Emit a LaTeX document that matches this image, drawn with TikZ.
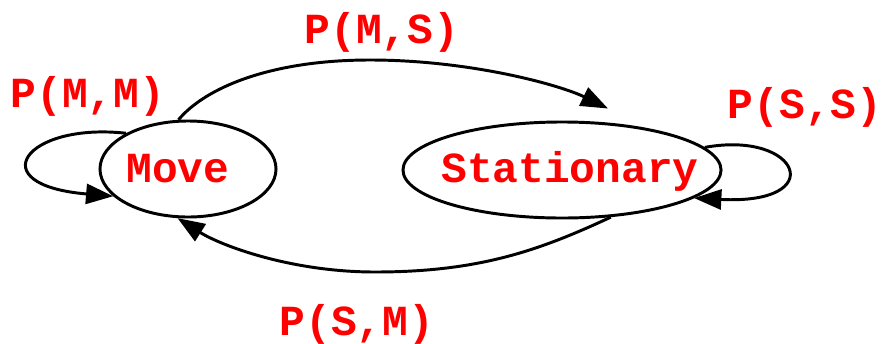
\documentclass[tikz,border=0pt]{standalone}
\usepackage{fontspec}
\setmonofont{Liberation Mono}
\usetikzlibrary{arrows.meta,shapes.geometric}
\tikzset{state/.style={ellipse,draw,line width=2.1pt,inner sep=0pt,minimum height=2.4cm},
  lbl/.style={text=red,font=\fontsize{30.5pt}{36pt}\selectfont\ttfamily\bfseries,inner sep=0pt,anchor=base},
  trans/.style={line width=2.1pt,-{Triangle[length=0.68cm,width=0.5cm]}}}
\begin{document}
\begin{tikzpicture}[x=.025cm,y=-.025cm]
\useasboundingbox (0,0) rectangle (885,343);
\node[state,minimum width=4.4cm] (move) at (188,169) {};
\node[state,minimum width=7.95cm] (stat) at (562,170) {};
\node[lbl] (movetxt) at (178,182) {Move};
\node[lbl] (stattxt) at (570,182) {Stationary};
\coordinate (mstip) at ([shift={(46,-12)}]stat.north);
\draw[trans] (move.101) .. controls (205,88) and (270,60) .. (370,60) .. controls (470,60) and (560,85) .. (mstip);
\draw[trans] (stat.-44) .. controls (540,250) and (480,272) .. (375,272) .. controls (290,272) and (220,245) .. (move.258);
\draw[trans] (move.150) .. controls (25,122) and (-20,185) .. (move.200);
\draw[trans] (stat.9) .. controls (800,130) and (830,205) .. (stat.-12);
\node[lbl] (pms) at (382,43) {P(M,S)};
\node[lbl] (pmm) at (88,107) {P(M,M)};
\node[lbl] (pss) at (805,118) {P(S,S)};
\node[lbl] (psm) at (357,335) {P(S,M)};
\end{tikzpicture}
\end{document}
